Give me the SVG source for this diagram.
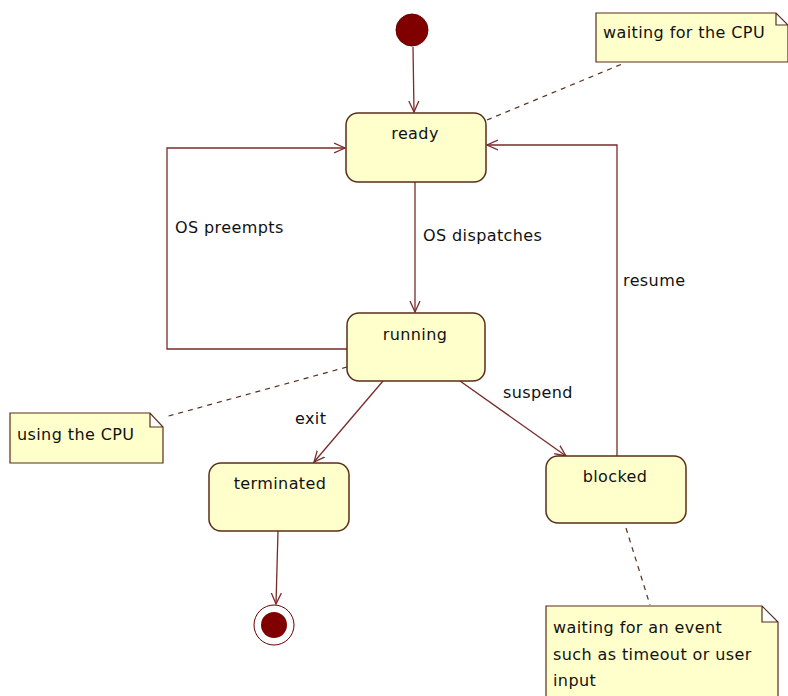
<svg xmlns="http://www.w3.org/2000/svg" width="788" height="696" viewBox="0 0 788 696">
<style>
.state rect{fill:#ffffcc;stroke:#5a2d1a;stroke-width:1.5}
.note path{fill:#ffffcc;stroke:#5a2d1a;stroke-width:1.2}
text{font-family:"DejaVu Sans","Liberation Sans",sans-serif;font-size:16px;letter-spacing:0.4px;fill:#111}
.c{text-anchor:middle}
.edge{fill:none;stroke:#7a2a2a;stroke-width:1.3}
.dash{fill:none;stroke:#5a2d1a;stroke-width:1.2;stroke-dasharray:5 5}
</style>
<defs>
<marker id="arr" viewBox="0 0 12 12" refX="11" refY="6" markerWidth="12" markerHeight="12" markerUnits="userSpaceOnUse" orient="auto">
<path d="M0,1 L11,6 L0,11" fill="none" stroke="#7a2a2a" stroke-width="1.3"/>
</marker>
</defs>
<rect width="788" height="696" fill="#ffffff"/>
<g id="connectors">
<path class="edge" d="M413,47 L414,112" marker-end="url(#arr)"/>
<path class="edge" d="M415,182 L415,312" marker-end="url(#arr)"/>
<path class="edge" d="M347,349 L167,349 L167,148 L345,148" marker-end="url(#arr)"/>
<path class="edge" d="M617,456 L617,145 L487,145" marker-end="url(#arr)"/>
<path class="edge" d="M383,381 L314,462" marker-end="url(#arr)"/>
<path class="edge" d="M460,381 L566,456" marker-end="url(#arr)"/>
<path class="edge" d="M278,531 L276,604" marker-end="url(#arr)"/>
<path class="dash" d="M487,120 L622,64"/>
<path class="dash" d="M347,367 L165,417"/>
<path class="dash" d="M626,528 L650,605"/>
<text x="175" y="233">OS preempts</text>
<text x="423" y="241">OS dispatches</text>
<text x="623" y="286">resume</text>
<text x="295" y="424">exit</text>
<text x="503" y="398">suspend</text>
</g>
<g id="initial"><circle cx="412" cy="30" r="16" fill="#800000" stroke="#6a0000"/></g>
<g id="ready" class="state"><rect x="346" y="113" width="140" height="69" rx="12"/><text class="c" x="415" y="139">ready</text></g>
<g id="running" class="state"><rect x="347" y="313" width="138" height="68" rx="12"/><text class="c" x="415" y="340">running</text></g>
<g id="terminated" class="state"><rect x="209" y="463" width="140" height="68" rx="12"/><text class="c" x="280" y="489">terminated</text></g>
<g id="blocked" class="state"><rect x="546" y="456" width="140" height="67" rx="12"/><text class="c" x="615" y="482">blocked</text></g>
<g id="final"><circle cx="274" cy="625" r="20" fill="#ffffff" stroke="#6a0000" stroke-width="1"/><circle cx="274" cy="625" r="13" fill="#800000"/></g>
<g id="note-ready" class="note"><path d="M596,13 L776,13 L788,25 L788,62 L596,62 Z M776,13 L776,25 L788,25"/><text x="603" y="38">waiting for the CPU</text></g>
<g id="note-running" class="note"><path d="M10,413 L150,413 L163,427 L163,463 L10,463 Z M150,413 L150,427 L163,427"/><text x="17" y="440">using the CPU</text></g>
<g id="note-blocked" class="note"><path d="M546,606 L762,606 L778,622 L778,700 L546,700 Z M762,606 L762,622 L778,622"/><text x="553" y="633">waiting for an event</text><text x="553" y="660">such as timeout or user</text><text x="553" y="686">input</text></g>
</svg>
